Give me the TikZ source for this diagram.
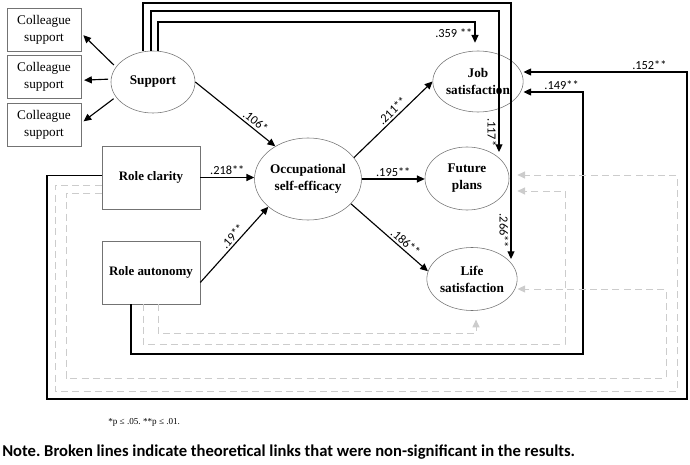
\documentclass[tikz,border=0pt]{standalone}
\usepackage{fontspec}
\setmainfont{Liberation Serif}
\setsansfont{Carlito}
\usetikzlibrary{shapes.geometric,arrows.meta}
\frenchspacing

\begin{document}
\begin{tikzpicture}
      [%%%%%%%%%%%%%%%%%%%%%%%%%%%%%%
      x=0.025cm, y=-0.025cm,
      font=\fontsize{9.4}{12}\selectfont,
      cbox/.style={rectangle,draw=black!55,minimum width=1.85cm,minimum height=1.075cm,align=center,inner sep=0pt},
      rbox/.style={rectangle,draw=black!55,minimum width=2.45cm,minimum height=1.575cm,align=center,inner sep=0pt,font=\fontsize{9.2}{12}\selectfont\bfseries},
      lat/.style={ellipse,draw=black!55,align=center,inner sep=0pt,font=\fontsize{9.4}{12}\selectfont\bfseries},
      arr/.style={draw=black,line width=0.8pt,-{Triangle[length=5.5pt,width=5pt]}},
      ns/.style={draw=black!20,line width=0.7pt,dash pattern=on 5pt off 3pt,-{Triangle[length=5.5pt,width=5pt]}},
      coef/.style={font=\sffamily\fontsize{8.8}{10}\selectfont,inner sep=1.5pt},
      ]%%%%%%%%%%%%%%%%%%%%%%%%%%%%%%
      \useasboundingbox (0,0) rectangle (690,465);

      \node[lat,minimum width=2.1cm,minimum height=1.55cm] (sup) at (153,82) {Support};
      \node[rbox] (clar) at (151,177.5) {Role clarity};
      \node[rbox] (auto) at (151,272.5) {Role autonomy};
      \node[lat,minimum width=2.35cm,minimum height=2.05cm] (ose) at (308,179) {Occupational\\self-efficacy};
      \node[lat,minimum width=2.075cm,minimum height=1.525cm] (job) at (478,81.5) {Job\\satisfaction};
      \node[lat,minimum width=2.1cm,minimum height=1.575cm] (fut) at (467,178.5) {Future\\plans};
      \node[lat,minimum width=2.1cm,minimum height=1.575cm] (life) at (472,279) {Life\\satisfaction};

      \foreach \i/\y/\s/\e in {1/30/158/-5,2/77/176/-5,3/125/202/3}{
        \node[cbox] (col\i) at (44,\y) {Colleague\\support};
        \draw[arr,shorten <=2pt,shorten >=2pt] (sup.\s) -- (col\i.\e);
      }

      \draw[arr] (sup.east) -- node[coef,sloped,above,pos=0.7] {.106*} (ose.135);
      \draw[arr] (clar.east) -- node[coef,above] {.218**} (clar.east -| ose.west);
      \draw[arr] ([yshift=-0.25cm]auto.east) -- node[coef,sloped,above,pos=0.55] {.19**} (ose.215);
      \draw[arr] (ose.25) -- node[coef,sloped,above,pos=0.55] {.211**} (job.west);
      \draw[arr] (ose.east) -- node[coef,above] {.195**} (ose.east -| fut.west);
      \draw[arr] (ose.-30) -- node[coef,sloped,above,pos=0.65] {.186**} (life.170);

      % paths over the top
      \coordinate (t1) at (511,3);
      \coordinate (t2) at (499,11);
      \coordinate (t3) at (475,22);
      \coordinate (e1) at (511,259);
      \coordinate (e2) at (499,152);
      \draw[arr,shorten >=0.2cm] ([xshift=0.125cm]sup.north) |- (t3) -- node[coef,left,pos=0.38] {.359 **} (t3 |- job.north);
      \draw[arr] ([xshift=-0.05cm]sup.north) |- (t2) -- node[coef,sloped,below,pos=0.86] {.117*} (e2);
      \draw[arr] ([xshift=-0.25cm]sup.north) |- (t1) -- node[coef,sloped,below,pos=0.89] {.266**} (e1);

      % paths round the bottom
      \coordinate (b1) at (47,399);
      \coordinate (b2) at (687,72);
      \coordinate (b3) at (583,354);
      \coordinate (b4) at (583,92);
      \draw[arr] ([yshift=0.06cm]clar.west) -| (b1) -| (b2) -- node[coef,above,pos=0.23] {.152**} (b2 -| job.east);
      \draw[arr] ([xshift=-0.5cm]auto.south) |- (b3) -- (b4) -- node[coef,above,pos=0.36] {.149**} (b4 -| job.east);

      \coordinate (d1) at (55,391);
      \coordinate (d1r) at (677,175);
      \coordinate (d2) at (66,378);
      \coordinate (d2r) at (666,289);
      \coordinate (d3) at (565,344);
      \coordinate (d3r) at (565,191);
      \coordinate (d4) at (476,333);
      \draw[ns,shorten >=0.2cm] ([yshift=-0.19cm]clar.west) -| (d1) -| (d1r) -- (d1r -| fut.east);
      \draw[ns] ([yshift=-0.39cm]clar.west) -| (d2) -| (d2r) -- (d2r -| life.east);
      \draw[ns,shorten >=0.2cm] ([xshift=-0.2cm]auto.south) |- (d3) -- (d3r) -- (d3r -| fut.east);
      \draw[ns,shorten >=0.22cm] ([xshift=0.175cm]auto.south) |- (d4) -- (d4 |- life.south);

      \node[font=\fontsize{6.5}{8}\selectfont,anchor=west,inner sep=0pt] (fn) at (108,422) {*p ≤ .05. **p ≤ .01.};
      \node[font=\sffamily\bfseries\fontsize{11.8}{14}\selectfont,anchor=west,inner sep=0pt] (note) at (2,452) {Note. Broken lines indicate theoretical links that were non-significant in the results.};
    \end{tikzpicture}
\end{document}
